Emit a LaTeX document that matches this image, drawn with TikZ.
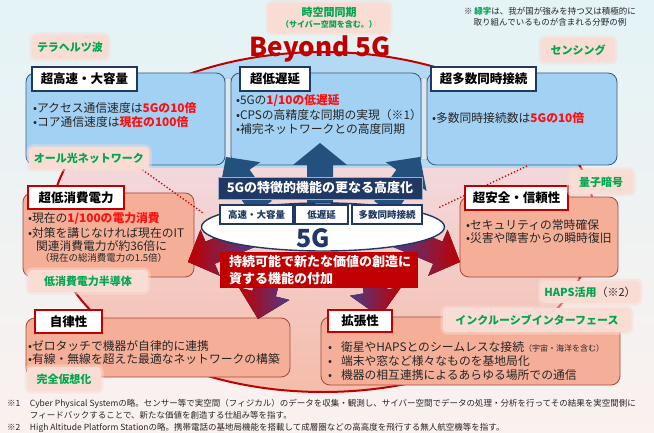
\documentclass[tikz,border=0pt]{standalone}
\usepackage{fontspec}
\setmainfont{Noto Sans CJK JP}
\usetikzlibrary{calc,shapes.geometric}
\definecolor{navy}{HTML}{1F3864}
\definecolor{bluefill}{HTML}{A3D1F4}
\definecolor{ovblue}{HTML}{B4DAF3}
\definecolor{bborder}{HTML}{3C5A78}
\definecolor{salfill}{HTML}{F5AF98}
\definecolor{salborder}{HTML}{A04A3C}
\definecolor{dred}{HTML}{C00000}
\definecolor{hred}{HTML}{FF1010}
\definecolor{gtext}{HTML}{00A650}
\definecolor{labfill}{HTML}{F9DCD3}
\definecolor{arrblue}{HTML}{24507E}
\definecolor{apurple}{HTML}{4B3A8A}
\definecolor{txt}{HTML}{262626}
\definecolor{bgtop}{HTML}{E3F3F6}
\definecolor{bgmid}{HTML}{F8E2DD}
\definecolor{bgbot}{HTML}{FBF1EF}
\definecolor{ovtop}{HTML}{F2D9DE}
\definecolor{ovbot}{HTML}{F5BBA8}
\definecolor{tubefill}{HTML}{DCE8F1}
\newcommand\redb[1]{\textcolor{hred}{\bfseries #1}}
% #1 options, #2 tail, #3 tip, #4 half shaft, #5 half head, #6 head length
\newcommand\fatarrow[6][]{%
  \coordinate (fa-h) at ($(#3)!#6!(#2)$);
  \fill[#1] ($(#2)!#4!90:(#3)$) -- ($(fa-h)!#4!-90:(#2)$) -- ($(fa-h)!#5!-90:(#2)$)
    -- (#3) -- ($(fa-h)!#5!90:(#2)$) -- ($(fa-h)!#4!90:(#2)$) -- ($(#2)!#4!-90:(#3)$) -- cycle;}
\begin{document}
\begin{tikzpicture}[x=1pt,y=-1pt,
  every node/.style={inner sep=0pt, outer sep=0pt},
  bbox/.style={draw=bborder, line width=0.8pt, fill=bluefill, rounded corners=9pt},
  sbox/.style={draw=salborder, line width=0.8pt, fill=salfill, rounded corners=9pt},
  btitle/.style={draw=navy, line width=1.6pt, fill=white, text=black, font=\fontsize{12.5}{14}\selectfont\bfseries},
  stitle/.style={draw=dred, line width=1.6pt, fill=white, text=black, font=\fontsize{12.5}{14}\selectfont\bfseries},
  bul/.style={anchor=west, text=txt, font=\fontsize{11.8}{13}\selectfont},
  glabel/.style={fill=labfill, rounded corners=4pt, text=gtext, font=\fontsize{11}{13}\selectfont\bfseries,
     preaction={draw=labfill, line width=5pt, opacity=0.5}},
  tube/.style={fill=tubefill, draw=bborder!50, line width=0.5pt, rounded corners=2pt},
  smbox/.style={draw=navy, line width=1.2pt, fill=white, minimum height=19, text=navy, font=\fontsize{9.5}{11}\selectfont\bfseries},
  fnote/.style={anchor=base west, text=txt, font=\fontsize{8.5}{10}\selectfont},
  dotline/.style={dred, line width=1.3pt, dotted},
  uparrow/.style={fill=arrblue},
]
\useasboundingbox (0,0) rectangle (654,433);
\fill[top color=bgtop, middle color=bgmid, bottom color=bgbot] (0,0) rectangle (654,433);
% big oval
\begin{scope}
  \clip (323,222) ellipse [x radius=272pt, y radius=170pt];
  \fill[top color=ovtop, bottom color=ovbot] (0,160) rectangle (654,400);
  \fill[ovblue] (0,40) rectangle (654,168);
\end{scope}
\node[ellipse, draw=dred, line width=2pt, minimum width=544, minimum height=340] (oval) at (323,222) {};
% tubes
\node[tube, minimum width=6, minimum height=82] (tb1) at (228,119) {};
\node[tube, minimum width=6, minimum height=82] (tb2) at (424,119) {};
% blue boxes
\node[bbox, minimum width=199, minimum height=92] (b1) at (125.5,119) {};
\node[bbox, minimum width=190, minimum height=92] (b2) at (326,119) {};
\node[bbox, minimum width=190, minimum height=92] (b3) at (522,119) {};
% salmon boxes
\node[sbox, minimum width=171, minimum height=84] (s1) at (108.5,235) {};
\node[sbox, minimum width=158, minimum height=80] (s2) at (539,237) {};
\node[sbox, minimum width=264, minimum height=59] (s3) at (158,347.5) {};
\node[sbox, minimum width=299, minimum height=68] (s4) at (470.5,351) {};
% arrows
\coordinate (uC0) at (320,205); \coordinate (uC1) at (320,143);
\coordinate (uL0) at (262,208); \coordinate (uL1) at (226,157);
\coordinate (uR0) at (384,208); \coordinate (uR1) at (420,157);
\fatarrow[uparrow]{uC0}{uC1}{13pt}{27pt}{22pt}
\fatarrow[uparrow]{uL0}{uL1}{12pt}{25pt}{24pt}
\fatarrow[uparrow]{uR0}{uR1}{12pt}{25pt}{24pt}
\coordinate (dL0) at (250,236); \coordinate (dL1) at (188,262);
\coordinate (dR0) at (398,236); \coordinate (dR1) at (460,262);
\coordinate (dB0) at (270,270); \coordinate (dB1) at (258,319);
\coordinate (dC0) at (372,270); \coordinate (dC1) at (380,317);
\fatarrow[left color=dred, right color=apurple]{dL0}{dL1}{12pt}{25pt}{24pt}
\fatarrow[left color=apurple, right color=dred]{dR0}{dR1}{12pt}{25pt}{24pt}
\fatarrow[left color=dred, right color=apurple]{dB0}{dB1}{12pt}{26pt}{26pt}
\fatarrow[left color=apurple, right color=dred]{dC0}{dC1}{12pt}{26pt}{26pt}
% centre
\node[ellipse, draw=navy, line width=1.4pt, fill=white, minimum width=243, minimum height=48] (e5g) at (323,227) {};
\node[smbox, minimum width=73] (m1) at (256.5,214.5) {高速・大容量};
\node[smbox, minimum width=53] (m2) at (321.5,214.5) {低遅延};
\node[smbox, minimum width=70] (m3) at (387,214.5) {多数同時接続};
\node[text=navy, font=\fontsize{25}{26}\selectfont\bfseries] (g5) at (313,238.5) {5G};
\node[draw=navy!40, line width=0.8pt, fill=navy, text=white, minimum width=204, minimum height=22,
  font=\fontsize{13}{15}\selectfont\bfseries] (nv) at (320,188) {5Gの特徴的機能の更なる高度化};
\node[fill=dred, text=white, minimum width=198, minimum height=36, text width=180, align=left,
  font=\fontsize{13}{17}\selectfont\bfseries] (rb) at (319,270) {持続可能で新たな価値の創造に\\資する機能の付加};
% dotted lines
\coordinate (dl0) at (137,166); \coordinate (dl1) at (203,213);
\coordinate (dr0) at (527,166); \coordinate (dr1) at (438,208);
\draw[dotline] (dl0) -- (dl1);
\draw[dotline] (dr0) -- (dr1);
% titles
\node[btitle, minimum width=105, minimum height=24] (h1) at (84.5,79) {超高速・大容量};
\node[btitle, minimum width=70, minimum height=24] (h2) at (275,79) {超低遅延};
\node[btitle, minimum width=105, minimum height=24] (h3) at (483.5,79) {超多数同時接続};
\node[stitle, minimum width=96, minimum height=23] (h4) at (76,197.5) {超低消費電力};
\node[stitle, minimum width=103, minimum height=24] (h5) at (516.5,198) {超安全・信頼性};
\node[stitle, minimum width=67, minimum height=23] (h6) at (68.5,321.5) {自律性};
\node[stitle, minimum width=64, minimum height=22] (h7) at (360,321) {拡張性};
% bullets
\node[bul] (t1a) at (33,108) {•アクセス通信速度は\redb{5Gの10倍}};
\node[bul] (t1b) at (33,122) {•コア通信速度は\redb{現在の100倍}};
\node[bul] (t2a) at (236,101) {•5Gの\redb{1/10の低遅延}};
\node[bul] (t2b) at (236,115) {•CPSの高精度な同期の実現（※1）};
\node[bul] (t2c) at (236,129) {•補完ネットワークとの高度同期};
\node[bul] (t3a) at (432,118) {•多数同時接続数は\redb{5Gの10倍}};
\node[bul] (t4a) at (28,219) {•現在の\redb{1/100の電力消費}};
\node[bul] (t4b) at (28,233) {•対策を講じなければ現在のIT};
\node[bul] (t4c) at (36,246) {関連消費電力が約36倍に};
\node[bul, font=\fontsize{9.5}{10}\selectfont] (t4d) at (40,258) {（現在の総消費電力の1.5倍）};
\node[bul] (t5a) at (466,225) {•セキュリティの常時確保};
\node[bul] (t5b) at (466,238) {•災害や障害からの瞬時復旧};
\node[bul] (t6a) at (28,346) {•ゼロタッチで機器が自律的に連携};
\node[bul] (t6b) at (28,359) {•有線・無線を超えた最適なネットワークの構築};
\node[bul] (t7a) at (328,347) {•\hspace{9pt}衛星やHAPSとのシームレスな接続{\fontsize{8}{9}\selectfont （宇宙・海洋を含む）}};
\node[bul] (t7b) at (328,361) {•\hspace{9pt}端末や窓など様々なものを基地局化};
\node[bul] (t7c) at (328,375) {•\hspace{9pt}機器の相互連携によるあらゆる場所での通信};
% green labels
\node[glabel, minimum width=76, minimum height=24] (lTera) at (70,47) {テラヘルツ波};
\node[glabel, minimum width=122, minimum height=30, align=center] (lJiku) at (329,18) {時空間同期\\[-2pt]{\fontsize{8}{9}\selectfont （サイバー空間を含む。）}};
\node[glabel, minimum width=74, minimum height=24] (lSens) at (578,50) {センシング};
\node[glabel, minimum width=120, minimum height=22] (lOpt) at (89,158) {オール光ネットワーク};
\node[glabel, minimum width=64, minimum height=24] (lQ) at (601,182) {量子暗号};
\node[glabel, minimum width=120, minimum height=22] (lSemi) at (88,281) {低消費電力半導体};
\node[glabel, minimum width=100, minimum height=22] (lHaps) at (590,292) {HAPS活用\textcolor{txt}{\mdseries （※2）}};
\node[glabel, minimum width=188, minimum height=24] (lIncl) at (537,320) {インクルーシブインターフェース};
\node[glabel, minimum width=74, minimum height=24] (lVirt) at (64,379) {完全仮想化};
% headline and note
\node[anchor=base, text=dred, font=\fontsize{26}{28}\selectfont\bfseries] (b5g) at (320,57) {Beyond 5G};
\node[anchor=north, align=center, text=txt, font=\fontsize{8.5}{11}\selectfont] (note) at (550,7)
  {※ \textcolor{gtext}{\bfseries 緑字}は、我が国が強みを持つ又は積極的に\\取り組んでいるものが含まれる分野の例};
% footnotes
\node[fnote] (f1) at (7,406) {※1};
\node[fnote] (f1a) at (30,406) {Cyber Physical Systemの略。センサー等で実空間（フィジカル）のデータを収集・観測し、サイバー空間でデータの処理・分析を行ってその結果を実空間側に};
\node[fnote] (f1b) at (30,418) {フィードバックすることで、新たな価値を創造する仕組み等を指す。};
\node[fnote] (f2) at (7,430) {※2};
\node[fnote] (f2a) at (30,430) {High Altitude Platform Stationの略。携帯電話の基地局機能を搭載して成層圏などの高高度を飛行する無人航空機等を指す。};
\end{tikzpicture}
\end{document}
